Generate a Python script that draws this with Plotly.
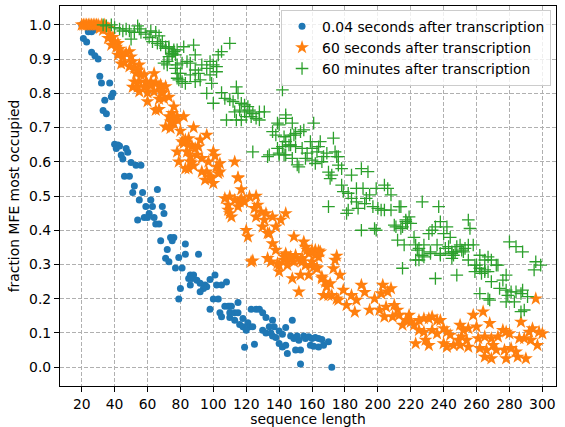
import plotly.graph_objects as go

# ---- data ----
blue_x = [20,21,23,24,26,27,26,28,30,31,32,37,39,38,34,33,35,36,40,42,43,41,47,48,44,45,50,53,56,46,49,52,51,57,66,55,62,59,63,69,70,61,58,60,64,54,65,67,68,74,76,75,72,83,83,91,71,73,79,77,81,86,88,85,87,90,101,98,92,95,96,102,105,108,86,94,92,80,79,100,103,98,115,107,109,110,111,104,110,113,115,105,110,113,123,126,128,130,132,118,116,118,121,122,120,124,119,125,136,134,137,130,132,135,136,138,140,142,144,148,140,142,144,145,150,153,153,147,149,151,152,155,156,158,160,162,164,166,159,161,164,167,170,172]
blue_y = [1.0,0.96,0.95,0.98,0.98,0.985,0.92,0.91,0.90,0.85,0.83,0.83,0.80,0.79,0.78,0.75,0.74,0.70,0.651,0.649,0.646,0.639,0.639,0.628,0.62,0.608,0.598,0.59,0.59,0.558,0.558,0.529,0.51,0.51,0.519,0.488,0.488,0.469,0.469,0.469,0.449,0.449,0.437,0.437,0.437,0.43,0.418,0.418,0.369,0.379,0.379,0.369,0.344,0.36,0.33,0.33,0.318,0.308,0.32,0.29,0.29,0.269,0.269,0.259,0.259,0.254,0.269,0.256,0.245,0.24,0.235,0.24,0.24,0.249,0.24,0.23,0.22,0.23,0.199,0.199,0.199,0.169,0.189,0.178,0.178,0.178,0.178,0.159,0.159,0.159,0.159,0.147,0.145,0.137,0.169,0.169,0.169,0.159,0.145,0.142,0.125,0.118,0.13,0.118,0.108,0.118,0.058,0.067,0.137,0.118,0.118,0.108,0.10,0.10,0.091,0.087,0.106,0.096,0.116,0.137,0.069,0.059,0.064,0.04,0.05,0.05,0.009,0.091,0.084,0.091,0.079,0.091,0.084,0.089,0.084,0.087,0.084,0.081,0.064,0.061,0.059,0.064,0.074,0.0]

orange_x = [20,21,22,23,24,25,26,27,28,29,30,31,32,33,34,35,36,
            31,33,35,37,36,39,40,38,42,41,43,44,42,45,47,49,50,46,44,51,49,52,55,54,53,56,52,55,59,62,65,58,64,51,54,58,62,67,55,60,64,69,60,67,73,67,65,76,75,78,75,76,71,
            68,71,69,70,73,76,74,78,74,88,80,83,85,81,92,96,87,91,78,84,89,86,90,93,100,101,79,87,97,104,113,85,93,102,104,98,115,
            82,82,85,86,88,83,103,96,95,99,100,115,117,107,110,113,116,117,122,126,109,115,119,109,111,110,125,127,129,126,132,131,136,141,144,130,134,138,120,121,149,155,156,136,138,162,158,164,144,150,143,147,153,160,133,135,123,140,145,161,
            133,160,164,162,124,139,144,149,154,140,148,153,158,152,159,163,166,173,168,171,169,167,170,172,175,
            157,165,175,174,143,147,154,156,163,166,177,
            179,184,187,190,181,192,195,198,186,176,
            203,208,206,202,201,205,210,212,204,209,213,
            219,217,220,215,222,225,228,231,233,236,238,
            225,228,233,236,240,242,244,
            223,231,229,240,242,246,249,251,254,250,255,
            250,252,255,260,258,264,268,
            261,265,269,273,276,278,280,
            262,266,270,272,265,269,
            277,281,284,278,285,290,
            287,286,289,292,294,298,297,293,296,300]
orange_y = [1,1,1,1,1,1,1,1,1,1,1,0.995,1,0.995,1,0.995,0.99,
            0.99,0.985,0.99,0.971,0.961,0.964,0.951,0.941,0.946,0.935,0.929,0.919,0.912,0.907,0.917,0.922,0.907,0.89,0.886,0.893,0.878,0.873,0.883,0.868,0.858,0.854,0.834,0.834,0.831,0.834,0.831,0.854,0.858,0.818,0.818,0.818,0.822,0.82,0.805,0.802,0.805,0.80,0.776,0.783,0.789,0.753,0.751,0.761,0.742,0.732,0.722,0.712,0.702,
            0.825,0.82,0.805,0.785,0.732,0.727,0.717,0.722,0.698,0.70,0.69,0.664,0.668,0.659,0.664,0.678,0.646,0.644,0.629,0.629,0.639,0.615,0.62,0.61,0.63,0.617,0.60,0.597,0.60,0.595,0.60,0.58,0.571,0.585,0.571,0.556,0.554,
            0.732,0.654,0.649,0.60,0.588,0.58,0.566,0.571,0.547,0.552,0.537,0.552,0.519,0.493,0.498,0.488,0.483,0.493,0.498,0.50,0.474,0.469,0.483,0.459,0.439,0.449,0.464,0.474,0.454,0.439,0.449,0.43,0.439,0.43,0.449,0.41,0.391,0.41,0.40,0.381,0.381,0.366,0.351,0.361,0.342,0.342,0.332,0.322,0.332,0.327,0.313,0.313,0.313,0.308,0.318,0.308,0.308,0.298,0.298,0.293,
            0.391,0.342,0.34,0.327,0.311,0.303,0.327,0.308,0.308,0.279,0.259,0.269,0.269,0.22,0.298,0.291,0.259,0.288,0.249,0.244,0.235,0.21,0.21,0.21,0.20,
            0.342,0.337,0.325,0.313,0.322,0.322,0.318,0.298,0.288,0.264,0.269,
            0.225,0.21,0.196,0.24,0.181,0.219,0.167,0.20,0.161,0.196,
            0.24,0.23,0.22,0.215,0.167,0.176,0.181,0.167,0.147,0.147,0.152,
            0.152,0.137,0.132,0.123,0.123,0.137,0.142,0.142,0.147,0.137,0.137,
            0.108,0.103,0.108,0.098,0.113,0.103,0.094,
            0.069,0.064,0.079,0.069,0.059,0.064,0.079,0.089,0.079,0.064,0.059,
            0.123,0.108,0.113,0.118,0.152,0.162,0.128,
            0.084,0.089,0.084,0.089,0.108,0.103,0.098,
            0.055,0.05,0.064,0.05,0.03,0.025,
            0.05,0.055,0.045,0.025,0.03,0.025,
            0.132,0.084,0.084,0.103,0.113,0.103,0.064,0.079,0.20,0.098]

green_x = [33,35,38,40,43,45,47,49,54,55,52,56,59,62,65,67,61,50,63,66,69,68,71,73,76,78,75,73,72,77,78,
           71,73,75,77,76,82,88,89,105,103,110,
           70,72,78,81,84,86,93,98,100,102,96,
           80,86,89,91,98,102,78,81,83,89,92,99,79,
           96,105,100,114,115,107,110,112,117,119,121,116,113,119,122,124,128,131,120,123,126,128,117,108,114,
           142,139,144,136,138,143,147,150,144,147,150,124,134,139,140,144,151,133,
           144,148,161,140,
           149,153,155,146,154,159,165,173,142,140,143,148,157,160,163,164,156,160,167,169,174,176,152,162,166,176,178,170,172,171,184,190,194,178,187,191,199,204,175,
           182,179,184,187,193,195,206,208,192,197,200,202,204,208,213,170,182,181,188,190,198,199,210,211,215,217,218,212,216,215,
           214,227,237,219,217,220,214,238,242,255,256,233,231,235,240,244,222,223,225,228,232,236,241,243,245,248,250,253,255,258,251,246,245,228,225,238,255,262,267,269,273,259,262,265,267,259,235,248,278,280,284,288,296,299,295,
           224,227,232,238,245,247,252,223,260,265,272,263,265,269,276,274,278,279,281,284,287,288,262,267,268,278,283,287,289,291]
green_y = [1.0,0.997,1.0,0.992,0.988,0.982,0.988,0.982,0.997,0.988,0.978,0.978,0.973,0.982,0.978,0.968,0.963,0.958,0.951,0.946,0.951,0.941,0.936,0.931,0.922,0.927,0.912,0.907,0.893,0.873,0.858,
           0.931,0.936,0.917,0.912,0.927,0.936,0.941,0.912,0.922,0.912,0.946,
           0.888,0.883,0.883,0.888,0.893,0.888,0.883,0.893,0.883,0.878,0.873,
           0.858,0.854,0.868,0.858,0.854,0.863,0.844,0.834,0.829,0.834,0.839,0.829,0.839,
           0.80,0.802,0.771,0.819,0.80,0.785,0.781,0.776,0.771,0.766,0.761,0.751,0.746,0.746,0.751,0.741,0.746,0.746,0.732,0.732,0.727,0.722,0.722,0.722,0.722,
           0.81,0.713,0.727,0.688,0.678,0.673,0.678,0.683,0.659,0.649,0.644,0.629,0.62,0.639,0.62,0.62,0.591,0.615,
           0.737,0.713,0.713,0.708,
           0.678,0.688,0.693,0.649,0.639,0.659,0.659,0.669,0.644,0.625,0.62,0.61,0.625,0.639,0.629,0.644,0.61,0.605,0.615,0.625,0.629,0.615,0.585,0.595,0.60,0.59,0.58,0.57,0.561,0.551,0.561,0.58,0.571,0.532,0.522,0.522,0.522,0.532,0.615,
           0.508,0.513,0.493,0.483,0.493,0.503,0.522,0.503,0.478,0.469,0.464,0.459,0.459,0.459,0.469,0.469,0.459,0.449,0.464,0.40,0.405,0.40,0.415,0.41,0.41,0.43,0.42,0.371,0.357,0.289,
           0.469,0.483,0.469,0.439,0.425,0.42,0.405,0.425,0.41,0.43,0.405,0.40,0.39,0.41,0.39,0.379,0.379,0.357,0.347,0.357,0.337,0.357,0.347,0.352,0.337,0.352,0.357,0.347,0.357,0.357,0.342,0.327,0.318,0.322,0.313,0.327,0.313,0.327,0.322,0.313,0.298,0.298,0.289,0.284,0.279,0.279,0.259,0.269,0.269,0.366,0.352,0.337,0.308,0.298,0.284,
           0.342,0.327,0.332,0.332,0.332,0.337,0.337,0.313,0.298,0.313,0.298,0.274,0.279,0.25,0.254,0.23,0.225,0.21,0.22,0.22,0.215,0.225,0.215,0.20,0.196,0.191,0.191,0.162,0.167,0.206]

names = ["0.04 seconds after transcription", "60 seconds after transcription", "60 minutes after transcription"]
x_ticks = list(range(20, 301, 20))
y_ticks = [round(0.1 * i, 1) for i in range(11)]

FONT = "DejaVu Sans"
FS = 13.9

fig = go.Figure()
fig.add_trace(go.Scatter(x=blue_x, y=blue_y, mode="markers", name=names[0],
                         marker=dict(symbol="circle", size=7, color="#1f77b4", line=dict(width=0))))
fig.add_trace(go.Scatter(x=orange_x, y=orange_y, mode="markers", name=names[1],
                         marker=dict(symbol="star", size=10.5, color="#ff7f0e", line=dict(width=0))))
fig.add_trace(go.Scatter(x=green_x, y=green_y, mode="markers", name=names[2],
                         marker=dict(symbol="cross-thin", size=9, color="#2ca02c", line=dict(width=1.3, color="#2ca02c"))))

axis_common = dict(showline=True, linecolor="black", linewidth=1.1, mirror=True,
                   ticks="outside", ticklen=5, tickwidth=1.1, tickcolor="black",
                   showgrid=True, gridcolor="#b0b0b0", gridwidth=0.9, griddash="4px,2px",
                   zeroline=False, automargin=False,
                   tickfont=dict(family=FONT, size=FS, color="black"))

fig.update_xaxes(range=[6.8, 308.3], tickvals=x_ticks, ticktext=[str(v) for v in x_ticks],
                 title=dict(text="sequence length", font=dict(family=FONT, size=FS, color="black"), standoff=2),
                 **axis_common)
fig.update_yaxes(range=[-0.055, 1.055], tickvals=y_ticks, ticktext=[f"{v:.1f}" for v in y_ticks],
                 title=dict(text="fraction MFE most occupied", font=dict(family=FONT, size=FS, color="black"), standoff=6),
                 **axis_common)

fig.update_layout(width=565, height=427, margin=dict(l=60, r=9, t=6, b=41, autoexpand=False),
                  paper_bgcolor="white", plot_bgcolor="white",
                  font=dict(family=FONT, size=FS, color="black"),
                  legend=dict(x=0.99, y=0.99, xanchor="right", yanchor="top",
                              bgcolor="rgba(255,255,255,0.8)", bordercolor="#cccccc", borderwidth=1,
                              font=dict(family=FONT, size=FS, color="black"),
                              tracegroupgap=0))

fig.write_html("out.html", config={"displayModeBar": False},
               post_script="document.body.style.margin='0px';document.body.style.overflow='hidden';")
